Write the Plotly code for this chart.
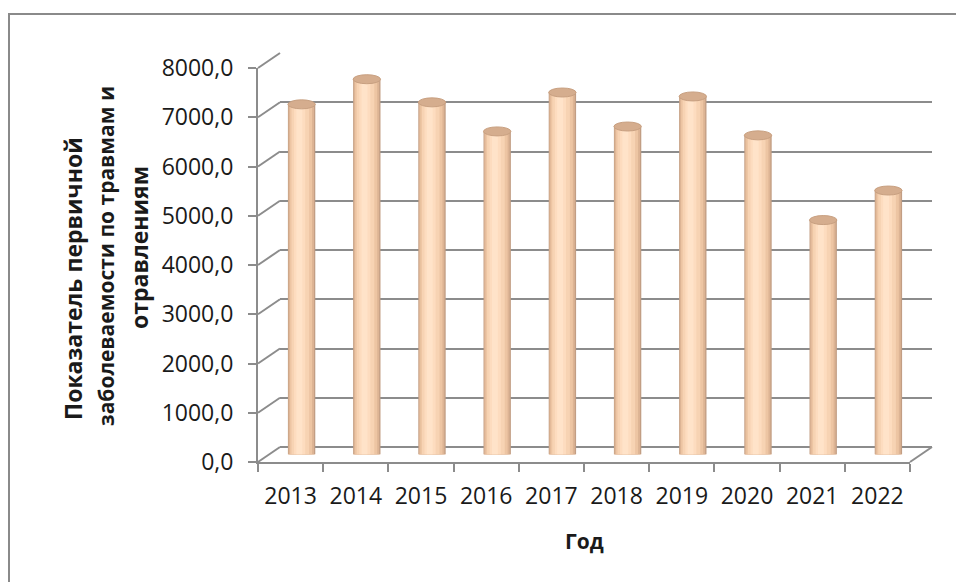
import plotly.graph_objects as go

# ---------------- data ----------------
years = ["2013", "2014", "2015", "2016", "2017", "2018", "2019", "2020", "2021", "2022"]
values = [7110, 7620, 7150, 6560, 7350, 6660, 7270, 6480, 4760, 5360]
y_ticks = [0, 1000, 2000, 3000, 4000, 5000, 6000, 7000, 8000]
y_title_lines = ["Показатель первичной", "заболеваемости по травмам и", "отравлениям"]
x_title = "Год"

W, H = 964, 582
OFF = 8  # default page body margin
FONT = "Open Sans"
GRID = "#8c8c8c"
TXT = "#1a1a1a"


def px(x):
    return (x - OFF) / W


def py(y):
    return 1 - (y - OFF) / H


# pseudo-3D geometry (page pixels)
FRONT_L, FRONT_R, FRONT_B, FRONT_T = 258, 910, 462, 68
DX, DY = 22, -15
YMAX = y_ticks[-1]

fig = go.Figure()

# back wall (subplot xy) - drawn first
fig.add_trace(go.Scatter(x=years, y=[None] * len(years), xaxis="x", yaxis="y",
                         showlegend=False, hoverinfo="skip", mode="markers"))
# front axes (subplot x2y2)
fig.add_trace(go.Scatter(x=years, y=[None] * len(years), xaxis="x2", yaxis="y2",
                         showlegend=False, hoverinfo="skip", mode="markers"))

# bars at mid depth (subplot x3y3) - cylinder shading via overlaid bars
layers = [
    (0.42, 0.0, "#C29E84"),
    (0.39, -0.005, "#DDB494"),
    (0.34, -0.01, "#EDC5A3"),
    (0.27, -0.02, "#F7D3B3"),
    (0.17, -0.03, "#FDDCBF"),
    (0.09, -0.035, "#FFE3C9"),
]
for w, sh, col in layers:
    fig.add_trace(go.Bar(x=years, y=values, xaxis="x3", yaxis="y3",
                         width=w, offset=-w / 2 + sh,
                         marker=dict(color=col, line=dict(width=0)),
                         showlegend=False, hoverinfo="skip"))

shapes = []
# rounded bottoms and tops of cylinders
for i, v in enumerate(values):
    shapes.append(dict(type="circle", xref="x3", yref="y3", layer="below",
                       x0=i - 0.205, x1=i + 0.205, ysizemode="pixel", yanchor=0,
                       y0=-4.5, y1=4.5, fillcolor="#F2CCA9", line=dict(width=0)))
    shapes.append(dict(type="circle", xref="x3", yref="y3", layer="above",
                       x0=i - 0.21, x1=i + 0.21, ysizemode="pixel", yanchor=v,
                       y0=-4.5, y1=4.5, fillcolor="#D5AD8E",
                       line=dict(color="#C8A081", width=1)))

# connectors from front axis ticks to back wall gridlines
for t in y_ticks:
    yf = FRONT_B - t / YMAX * (FRONT_B - FRONT_T)
    yb = (FRONT_B + DY) - t / YMAX * (FRONT_B - FRONT_T)
    shapes.append(dict(type="line", xref="paper", yref="paper", layer="below",
                       x0=px(FRONT_L), y0=py(yf), x1=px(FRONT_L + DX), y1=py(yb),
                       line=dict(color=GRID, width=2)))
# right floor edge
shapes.append(dict(type="line", xref="paper", yref="paper", layer="below",
                   x0=px(FRONT_R), y0=py(FRONT_B), x1=px(FRONT_R + DX), y1=py(FRONT_B + DY),
                   line=dict(color=GRID, width=2)))
# outer chart frame
shapes.append(dict(type="rect", xref="paper", yref="paper", layer="below",
                   x0=px(9), y0=py(14), x1=px(W + 40), y1=py(H + 40),
                   line=dict(color="#8a8a8a", width=2), fillcolor="rgba(0,0,0,0)"))

annotations = []
title_pos = [(73, 279, 23), (106, 256, 21), (139, 248, 23)]
for line, (ax, ay, fs) in zip(y_title_lines, title_pos):
    annotations.append(dict(text="<b>" + line + "</b>", xref="paper", yref="paper",
                            x=px(ax), y=py(ay), xanchor="center", yanchor="middle",
                            textangle=-90, showarrow=False,
                            font=dict(family=FONT, size=fs, color=TXT)))
annotations.append(dict(text="<b>" + x_title + "</b>", xref="paper", yref="paper",
                        x=px(584), y=py(541), xanchor="center", yanchor="middle",
                        showarrow=False, font=dict(family=FONT, size=21, color=TXT)))

rng_x = [-0.5, len(years) - 0.5]
rng_y = [0, YMAX]

fig.update_layout(
    template="none",
    width=W, height=H,
    margin=dict(l=0, r=0, t=0, b=0, pad=0, autoexpand=False),
    paper_bgcolor="white", plot_bgcolor="rgba(0,0,0,0)",
    separators=", ",
    barmode="overlay",
    showlegend=False,
    font=dict(family=FONT, color=TXT),
    shapes=shapes,
    annotations=annotations,
    # back wall
    xaxis=dict(domain=[px(FRONT_L + DX), px(FRONT_R + DX)], anchor="y",
               type="category", categoryorder="array", categoryarray=years,
               range=rng_x, showgrid=False, showline=False, showticklabels=False,
               ticks="", zeroline=False, automargin=False),
    yaxis=dict(domain=[py(FRONT_B + DY), py(FRONT_T + DY)], anchor="x",
               range=rng_y, tickvals=y_ticks, showgrid=True, gridcolor=GRID,
               gridwidth=2, zeroline=True, zerolinecolor=GRID, zerolinewidth=2,
               showticklabels=False, ticks="", showline=False, automargin=False),
    # front axes
    xaxis2=dict(domain=[px(FRONT_L), px(FRONT_R)], anchor="y2",
                type="category", categoryorder="array", categoryarray=years,
                range=rng_x, showgrid=False, zeroline=False,
                showline=True, linecolor=GRID, linewidth=2,
                ticks="outside", tickson="boundaries", ticklen=8,
                tickcolor=GRID, tickwidth=2,
                tickfont=dict(family=FONT, size=23, color=TXT),
                ticklabelstandoff=12, automargin=False),
    yaxis2=dict(domain=[py(FRONT_B), py(FRONT_T)], anchor="x2",
                range=rng_y, tickvals=y_ticks, tickformat=".1f",
                showgrid=False, zeroline=False,
                showline=True, linecolor=GRID, linewidth=2,
                ticks="outside", ticklen=8, tickcolor=GRID, tickwidth=2,
                tickfont=dict(family=FONT, size=23, color=TXT),
                ticklabelstandoff=10, automargin=False),
    # bars at mid depth
    xaxis3=dict(domain=[px(FRONT_L + DX / 2), px(FRONT_R + DX / 2)], anchor="y3",
                type="category", categoryorder="array", categoryarray=years,
                range=rng_x, visible=False, automargin=False),
    yaxis3=dict(domain=[py(FRONT_B + DY / 2), py(FRONT_T + DY / 2)], anchor="x3",
                range=rng_y, visible=False, automargin=False),
)

fig.write_html("out.html")
